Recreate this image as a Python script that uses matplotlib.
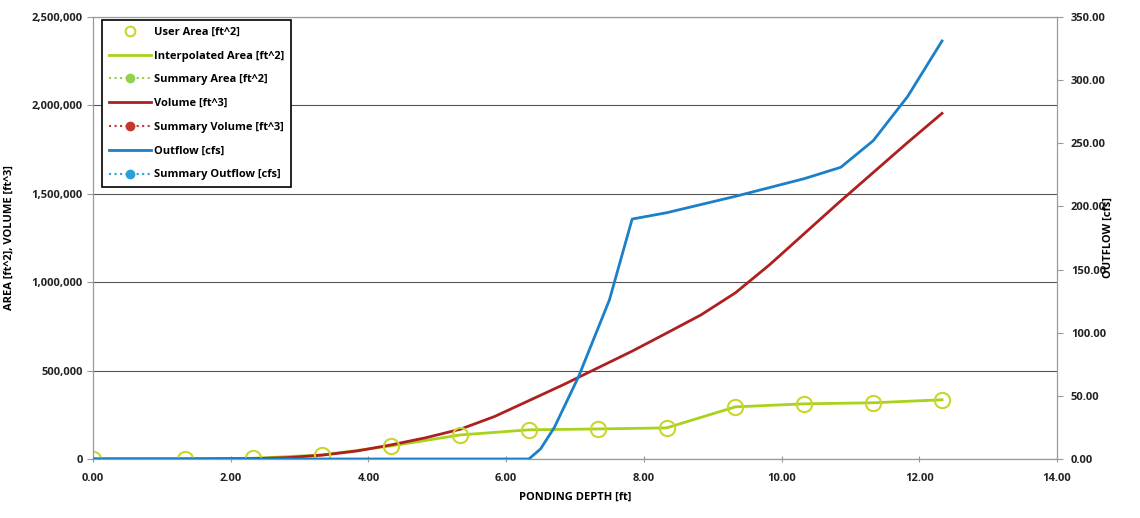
import numpy as np
import matplotlib.pyplot as plt
from matplotlib.lines import Line2D
from matplotlib.ticker import FuncFormatter

plt.rcParams['font.family'] = ['Open Sans', 'DejaVu Sans']

# Ponding depth stations for user / interpolated area
depth = [0.00, 1.33, 2.33, 3.33, 4.33, 5.33, 6.33, 7.33, 8.33, 9.33, 10.33, 11.33, 12.33]
user_area = [0, 1000, 4000, 23000, 74000, 136000, 165000, 170000, 176000, 295000, 312000, 318000, 335000]

# Volume curve
vol_depth = [0.00, 1.33, 2.33, 2.83, 3.33, 3.83, 4.33, 4.83, 5.33, 5.83, 6.33, 6.83, 7.33,
             7.83, 8.33, 8.83, 9.33, 9.83, 10.33, 10.83, 11.33, 11.83, 12.33]
volume = [0, 0, 2000, 8000, 22000, 45000, 80000, 120000, 168000, 240000, 330000, 420000, 515000,
          610000, 712000, 815000, 940000, 1100000, 1275000, 1450000, 1620000, 1790000, 1955000]

# Outflow curve
out_depth = [0.00, 6.33, 6.50, 6.70, 7.05, 7.50, 7.83, 8.33, 9.33, 10.33, 10.86, 11.33, 11.83, 12.33]
outflow = [0, 0, 8, 25, 65, 126, 190, 195, 208, 222, 231, 252, 287, 331]

green = '#a8d21c'
circ = '#cad62e'
red = '#ae1f1f'
blue = '#1b80c8'

fig = plt.figure(figsize=(11.4, 5.18), dpi=100)
ax = fig.add_axes([93/1140, 1 - 459/518, (1057 - 93)/1140, (459 - 17)/518])
ax2 = ax.twinx()

# area + volume on left axis, outflow on right
ax.plot(depth, user_area, color=green, lw=2.0, zorder=3)
ax.plot(depth, user_area, ls='none', marker='o', ms=11, mfc='none', mec=circ, mew=1.5, zorder=4)
ax.plot(vol_depth, volume, color=red, lw=2.0, zorder=3)
ax2.plot(out_depth, outflow, color=blue, lw=2.0, zorder=3)

ax.set_xlim(0, 14)
ax.set_ylim(0, 2500000)
ax2.set_ylim(0, 350)
ax.set_xticks(np.arange(0, 14.01, 2))
ax.set_yticks(np.arange(0, 2500001, 500000))
ax2.set_yticks(np.arange(0, 351, 50))
ax.xaxis.set_major_formatter(FuncFormatter(lambda v, p: '%.2f' % v))
ax.yaxis.set_major_formatter(FuncFormatter(lambda v, p: '{:,.0f}'.format(v)))
ax2.yaxis.set_major_formatter(FuncFormatter(lambda v, p: '%.2f' % v))

ax.grid(axis='y', color='#555555', lw=0.8)
ax.set_axisbelow(True)
for a in (ax, ax2):
    for s in a.spines.values():
        s.set_color('#999999')
        s.set_linewidth(0.8)
ax.tick_params(axis='both', colors='#999999', labelcolor='#222222', labelsize=8, length=4)
ax.tick_params(axis='x', pad=8, direction='inout')
ax2.tick_params(axis='y', colors='#999999', labelcolor='#222222', labelsize=8, length=4, pad=6)
for lab in ax.get_xticklabels() + ax.get_yticklabels() + ax2.get_yticklabels():
    lab.set_fontweight('bold')

ax.set_xlabel('PONDING DEPTH [ft]', fontsize=8, fontweight='bold', labelpad=6)
ax.set_ylabel('AREA [ft^2], VOLUME [ft^3]', fontsize=8, fontweight='bold', labelpad=12)
ax2.set_ylabel('OUTFLOW [cfs]', fontsize=8, fontweight='bold', labelpad=-2)

handles = [
    Line2D([], [], ls='none', marker='o', ms=7, mfc='none', mec=circ, mew=1.5),
    Line2D([], [], color=green, lw=2.0),
    Line2D([], [], color='#92d050', lw=1.5, ls=':', marker='o', ms=6),
    Line2D([], [], color=red, lw=2.0),
    Line2D([], [], color='#c0392b', lw=1.5, ls=':', marker='o', ms=6),
    Line2D([], [], color=blue, lw=2.0),
    Line2D([], [], color='#2c9fd9', lw=1.5, ls=':', marker='o', ms=6),
]
labels = ['User Area [ft^2]', 'Interpolated Area [ft^2]', 'Summary Area [ft^2]',
          'Volume [ft^3]', 'Summary Volume [ft^3]', 'Outflow [cfs]', 'Summary Outflow [cfs]']
leg = ax2.legend(handles, labels, loc='upper left', bbox_to_anchor=(0.0095, 0.993),
                 borderaxespad=0, fancybox=False, edgecolor='black', framealpha=1,
                 fontsize=8, labelspacing=1.15, handlelength=3.8, handletextpad=0.3,
                 borderpad=0.6)
leg.get_frame().set_linewidth(1.2)
for t in leg.get_texts():
    t.set_fontweight('bold')

fig.savefig('out.png', dpi=100)
